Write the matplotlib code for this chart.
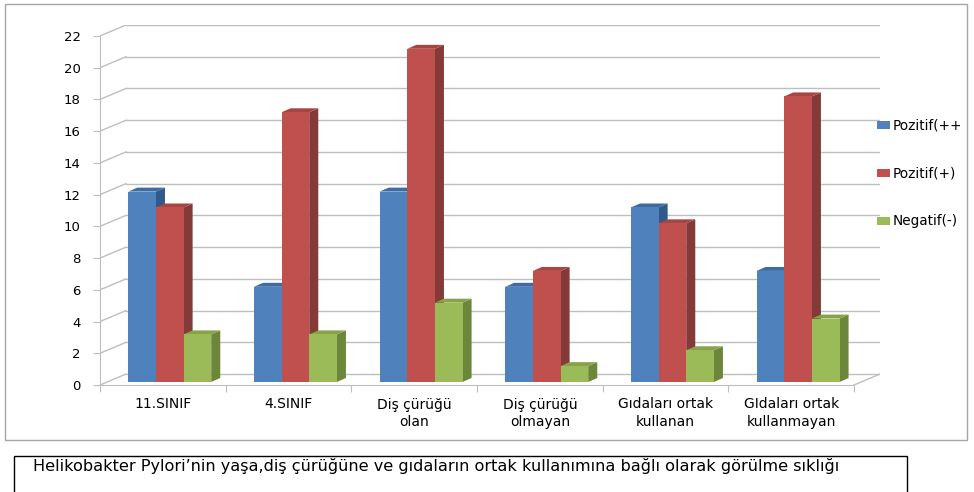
import numpy as np
import matplotlib
matplotlib.use("Agg")
import matplotlib.pyplot as plt
from matplotlib.patches import Polygon, Rectangle

categories = ["11.SINIF", "4.SINIF", "Diş çürüğü\nolan", "Diş çürüğü\nolmayan",
              "Gıdaları ortak\nkullanan", "GIdaları ortak\nkullanmayan"]
pozitif_pp = [12, 6, 12, 6, 11, 7]
pozitif_p = [11, 17, 21, 7, 10, 18]
negatif = [3, 3, 5, 1, 2, 4]
series_labels = ["Pozitif(++", "Pozitif(+)", "Negatif(-)"]
y_ticks = list(range(0, 23, 2))
caption = "Helikobakter Pylori\u2019nin yaşa,diş çürüğüne ve gıdaların ortak kullanımına bağlı olarak görülme sıklığı"

# front / side / top colours of each series (Excel 2007 style)
colors = [("#4F81BD", "#2F5A8A", "#3C6CA3"),
          ("#C0504D", "#843A38", "#A64542"),
          ("#9BBB59", "#6C8739", "#86A349")]

plt.rcParams['font.family'] = ['DejaVu Sans']
grid_c = "#BEBEBE"

fig = plt.figure(figsize=(9.74, 4.92), dpi=100)

# outer chart border and caption box
fig.patches.append(Rectangle((5 / 974, 1 - 440 / 492), 962 / 974, 436 / 492,
                             transform=fig.transFigure, fill=False,
                             edgecolor="#A6A6A6", lw=1))
fig.patches.append(Rectangle((14 / 974, -0.05), 893 / 974, 1 - 456 / 492 + 0.05,
                             transform=fig.transFigure, fill=False,
                             edgecolor="black", lw=1))
fig.text(33 / 974, 1 - 466 / 492, caption, fontsize=11.6, va="center", ha="left")

ax = fig.add_axes([100 / 974, 1 - 385 / 492, 780 / 974, 360 / 492])
n = len(categories)
dx, dy = 0.207, 0.69      # back wall offset (data units)
bdx, bdy = 0.072, 0.25    # bar depth
base = 0.19               # bars stand slightly behind the floor's front edge
ax.set_xlim(0, n + dx)
ax.set_ylim(0, 22 + dy)
ax.patch.set_visible(False)

# back wall gridlines and left wall diagonals
for v in y_ticks:
    ax.plot([dx, n + dx], [v + dy, v + dy], color=grid_c, lw=1, zorder=1)
    ax.plot([0, dx], [v, v + dy], color=grid_c, lw=1, zorder=1)
ax.plot([n, n + dx], [0, dy], color=grid_c, lw=1, zorder=1)

# 3D-looking bars
width = 0.22
start = 0.225
series = [pozitif_pp, pozitif_p, negatif]
for i in range(n):
    for k, vals in enumerate(series):
        front, side, top = colors[k]
        x0 = i + start + k * width
        h = vals[i]
        y1 = base + h
        ax.add_patch(Polygon([(x0 + width, base), (x0 + width + bdx, base + bdy),
                              (x0 + width + bdx, y1 + bdy), (x0 + width, y1)],
                             closed=True, facecolor=side, edgecolor="none", zorder=3))
        ax.add_patch(Polygon([(x0, y1), (x0 + bdx, y1 + bdy),
                              (x0 + width + bdx, y1 + bdy), (x0 + width, y1)],
                             closed=True, facecolor=top, edgecolor="none", zorder=3))
        ax.bar(x0, h, width, bottom=base, align="edge", color=front, zorder=3,
               label=series_labels[k] if i == 0 else None)

for s in ["top", "right"]:
    ax.spines[s].set_visible(False)
ax.spines["left"].set_bounds(0, 22)
ax.spines["bottom"].set_bounds(0, n)
for s in ["left", "bottom"]:
    ax.spines[s].set_color(grid_c)
    ax.spines[s].set_zorder(4)

ax.set_yticks(y_ticks)
ax.tick_params(axis="y", length=5, color=grid_c, pad=9, labelsize=9.5)
ax.set_xticks(range(n + 1))
ax.set_xticklabels([])
ax.set_xticks(np.arange(n) + 0.5, categories, minor=True)
ax.tick_params(axis="x", which="major", length=5, color=grid_c)
ax.tick_params(axis="x", which="minor", length=0, pad=9, labelsize=10)
for lbl in ax.get_xticklabels(minor=True):
    lbl.set_linespacing(1.3)

fig.legend(loc="upper left", bbox_to_anchor=(872 / 974, 1 - 113 / 492),
           frameon=False, fontsize=9.8, handlelength=0.9, handleheight=0.55,
           handletextpad=0.25, labelspacing=2.5, borderaxespad=0)

fig.savefig("out.png", dpi=100)
